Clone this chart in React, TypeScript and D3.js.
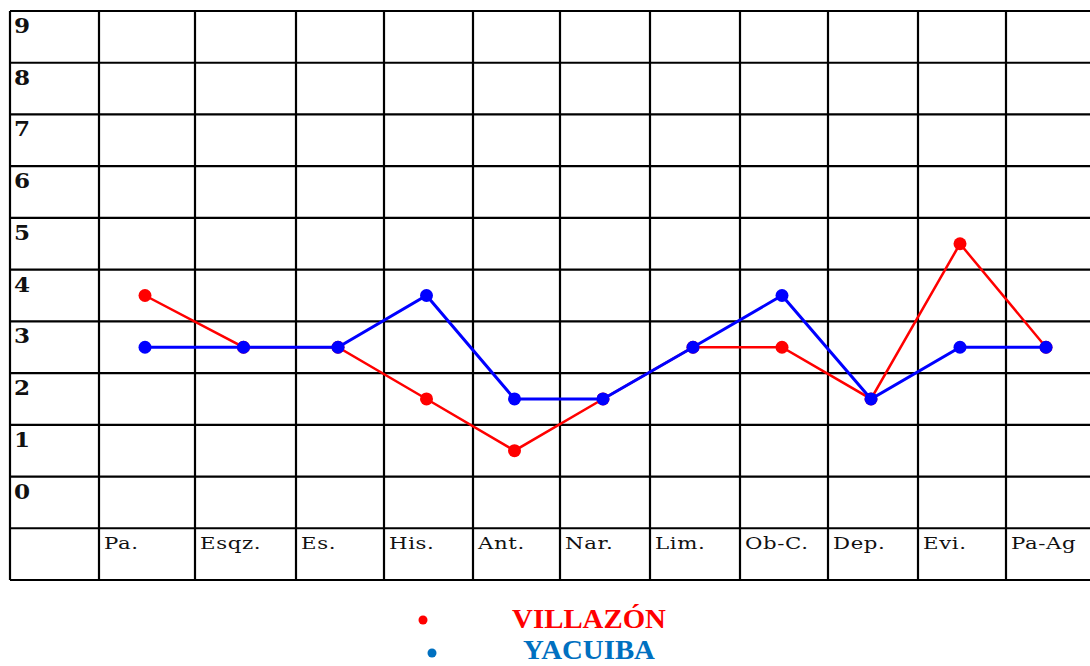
import * as d3 from "d3";

// categories along the bottom row
const categories = ["Pa.", "Esqz.", "Es.", "His.", "Ant.", "Nar.", "Lim.", "Ob-C.", "Dep.", "Evi.", "Pa-Ag"];
const yTicks = [9, 8, 7, 6, 5, 4, 3, 2, 1, 0];

// series values (score per category)
const villazon = [4, 3, 3, 2, 1, 2, 3, 3, 2, 5, 3];
const yacuiba = [3, 3, 3, 4, 2, 2, 3, 4, 2, 3, 3];

const seriesNames = ["VILLAZÓN", "YACUIBA"];
const lineColors = ["#ff0000", "#0000ff"];
const legendColors = ["#ff0000", "#0070c0"];

// table layout (column borders, the first column holds the y labels)
const W = 1090;
const H = 666;
const colEdges = [10, 99, 195, 296, 384, 473, 560, 650, 740, 828, 918, 1006, 1090];
const top = 11;
const bottom = 580;

export default function App() {
  const series = [villazon, yacuiba];

  // one row per score, plus the label row at the bottom
  const y = d3.scaleLinear().domain([9.5, -1.5]).range([top, bottom]);
  const centers = categories.map((_, i) => (colEdges[i + 1] + colEdges[i + 2]) / 2 - 2);
  const x = d3.scaleOrdinal<string, number>().domain(categories).range(centers);

  const rowLines = d3.range(-1.5, 10, 1);

  const line = d3
    .line<number>()
    .x((_, i) => x(categories[i]))
    .y((d) => y(d));

  return (
    <svg
      width={W}
      height={H}
      style={{ position: "absolute", left: 0, top: 0, background: "#fff" }}
    >
      {/* grid */}
      <g stroke="#000" strokeWidth={2.2}>
        {rowLines.map((v) => (
          <line key={"h" + v} x1={colEdges[0]} x2={W} y1={y(v)} y2={y(v)} />
        ))}
        {colEdges.slice(0, -1).map((cx) => (
          <line key={"v" + cx} x1={cx} x2={cx} y1={top} y2={bottom} />
        ))}
      </g>

      {/* y labels */}
      {yTicks.map((v) => (
        <text
          key={"t" + v}
          transform={`translate(${colEdges[0] + 4},${y(v + 0.5) + 22}) scale(1.1,1)`}
          fontFamily="'DejaVu Serif', serif"
          fontWeight="bold"
          fontSize={21}
          fill="#111"
        >
          {v}
        </text>
      ))}

      {/* category labels */}
      {categories.map((c, i) => (
        <text
          key={c}
          transform={`translate(${colEdges[i + 1] + 5},${y(-0.5) + 21}) scale(1.25,1)`}
          fontFamily="'DejaVu Serif', serif"
          fontSize={17}
          letterSpacing={0.5}
          fill="#111"
        >
          {c}
        </text>
      ))}

      {/* series */}
      {series.map((vals, s) => (
        <g key={seriesNames[s]}>
          <path d={line(vals) ?? ""} fill="none" stroke={lineColors[s]} strokeWidth={s === 0 ? 2.5 : 3} />
          {vals.map((v, i) => (
            <circle key={i} cx={x(categories[i])} cy={y(v)} r={6.5} fill={lineColors[s]} />
          ))}
        </g>
      ))}

      {/* legend */}
      {seriesNames.map((name, s) => (
        <g key={"lg" + name}>
          <circle cx={423 + s * 9} cy={620 + s * 33} r={4.5} fill={legendColors[s]} />
          <text
            transform={`translate(589,${628 + s * 31}) scale(1.03,1)`}
            textAnchor="middle"
            fontFamily="'Liberation Serif', serif"
            fontWeight="bold"
            fontSize={28}
            fill={legendColors[s]}
          >
            {name}
          </text>
        </g>
      ))}
    </svg>
  );
}
